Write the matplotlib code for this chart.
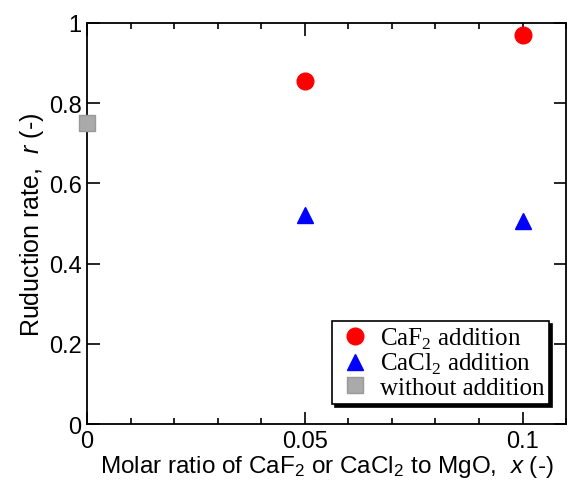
import matplotlib
matplotlib.use("Agg")
import matplotlib.pyplot as plt
from matplotlib.ticker import MultipleLocator

# data
x_caf2 = [0.05, 0.1]
r_caf2 = [0.855, 0.97]
x_cacl2 = [0.05, 0.1]
r_cacl2 = [0.522, 0.507]
x_none = [0.0]
r_none = [0.75]

plt.rcParams["font.family"] = "Liberation Sans"
plt.rcParams["mathtext.fontset"] = "custom"
plt.rcParams["mathtext.it"] = "Liberation Sans:italic"
plt.rcParams["mathtext.rm"] = "Liberation Sans"

fig = plt.figure(figsize=(5.69, 4.81), dpi=100)
ax = fig.add_axes([0.153, 0.1164, 0.842, 0.834])

ax.plot(x_caf2, r_caf2, "o", color="red", ms=12, mec="red",
        label=r"CaF$_\mathregular{2}$ addition", clip_on=False, zorder=3)
ax.plot(x_cacl2, r_cacl2, "^", color="blue", ms=12, mec="blue",
        label=r"CaCl$_\mathregular{2}$ addition", clip_on=False, zorder=3)
ax.plot(x_none, r_none, "s", color="#aaaaaa", ms=11, mec="#999999",
        label="without addition", clip_on=False, zorder=3)

ax.set_xlim(0, 0.11)
ax.set_ylim(0, 1)
ax.xaxis.set_minor_locator(MultipleLocator(0.01))
ax.set_xticks([0, 0.05, 0.1])
ax.set_xticklabels(["0", "0.05", "0.1"])
ax.set_yticks([0, 0.2, 0.4, 0.6, 0.8, 1.0])
ax.set_yticklabels(["0", "0.2", "0.4", "0.6", "0.8", "1"])
ax.tick_params(which="both", direction="in", top=True, right=True,
               labelsize=17, width=1.2, pad=4)
ax.tick_params(which="major", length=9)
ax.tick_params(which="minor", length=4.5)
for s in ax.spines.values():
    s.set_linewidth(1.3)

ax.set_xlabel(r"Molar ratio of CaF$_\mathregular{2}$ or CaCl$_\mathregular{2}$ to MgO,  $x$ (-)",
              fontsize=17.5, labelpad=1)
ax.set_ylabel(r"Ruduction rate,  $r$ (-)", fontsize=18, labelpad=2)

leg = ax.legend(loc="lower right", bbox_to_anchor=(0.965, 0.05),
                prop={"family": "Liberation Serif", "size": 18},
                frameon=True, fancybox=False,
                shadow={"color": "black", "alpha": 1},
                edgecolor="black", framealpha=1, handletextpad=0.3,
                borderpad=0.2, labelspacing=0.0, handlelength=1.4,
                borderaxespad=0)
leg.get_frame().set_linewidth(1.2)

fig.savefig("out.png", dpi=100)
